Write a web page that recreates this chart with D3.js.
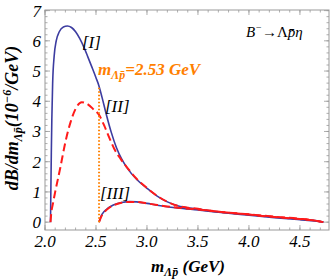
<!DOCTYPE html>
<html>
<head>
<meta charset="utf-8">
<script src="https://cdn.jsdelivr.net/npm/d3@7"></script>
<style>
  body { margin: 0; background: #fff; }
  text { font-family: "Liberation Serif", "DejaVu Serif", serif; }
</style>
</head>
<body>
<div id="chart-area"></div>
<script>
// Datos
const curveI_m = [2.054, 2.058, 2.062, 2.067, 2.075, 2.09, 2.11, 2.14, 2.18, 2.22, 2.26, 2.30, 2.34, 2.38, 2.42, 2.46, 2.50, 2.53, 2.56, 2.60, 2.65, 2.70, 2.75, 2.8, 2.9, 3.0, 3.1, 3.2, 3.3, 3.5, 3.75, 4.0, 4.25, 4.5, 4.65, 4.73];
const curveI_v = [0, 1.2, 2.3, 3.4, 4.6, 5.5, 6.0, 6.3, 6.46, 6.49, 6.44, 6.3, 6.08, 5.8, 5.47, 5.13, 4.78, 4.5, 4.12, 3.58, 2.97, 2.47, 2.1, 1.82, 1.41, 1.12, 0.86, 0.67, 0.54, 0.43, 0.32, 0.25, 0.17, 0.1, 0.05, 0];

const curveII_m = [2.054, 2.06, 2.08, 2.1, 2.15, 2.2, 2.25, 2.3, 2.36, 2.42, 2.48, 2.53, 2.58, 2.63, 2.68, 2.74, 2.8, 2.9, 3.0, 3.1, 3.2, 3.3, 3.5, 3.75, 4.0, 4.25, 4.5, 4.65, 4.73];
const curveII_v = [0, 0.25, 0.65, 1.0, 1.8, 2.65, 3.3, 3.75, 3.97, 3.9, 3.72, 3.55, 3.2, 2.8, 2.42, 2.1, 1.83, 1.43, 1.13, 0.87, 0.67, 0.54, 0.44, 0.33, 0.26, 0.18, 0.11, 0.05, 0];

const curveIIIa_m = [2.53, 2.55, 2.58, 2.62, 2.67, 2.75, 2.83, 2.9, 3.0, 3.1, 3.2, 3.3, 3.5, 3.75, 4.0, 4.25, 4.5, 4.65, 4.73];
const curveIIIa_v = [0, 0.2, 0.35, 0.47, 0.57, 0.65, 0.68, 0.67, 0.62, 0.56, 0.51, 0.47, 0.4, 0.31, 0.23, 0.15, 0.08, 0.04, 0];
const curveIIIb_v = [0, 0.17, 0.32, 0.45, 0.55, 0.64, 0.67, 0.67, 0.62, 0.57, 0.52, 0.48, 0.42, 0.33, 0.25, 0.17, 0.1, 0.05, 0];

const threshold = 2.53;
const thresholdTop = 4.5;

const xMajor = [2.0, 2.5, 3.0, 3.5, 4.0, 4.5];
const yMajor = [0, 1, 2, 3, 4, 5, 6, 7];

const W = 332, H = 280;
const mLeft = 45, mRight = 329, mTop = 10, mBottom = 230;

const svg = d3.select("#chart-area")
    .append("svg")
    .attr("width", W)
    .attr("height", H);

// Escalas
const x = d3.scaleLinear().domain([2.0, 4.785]).range([mLeft, mRight]);
const y = d3.scaleLinear().domain([-0.26, 7.02]).range([mBottom, mTop]);

const xMinor = d3.range(20, 48).map(d => d / 10);
const yMinor = d3.range(0, 36).map(d => d / 5);

// Marco y ticks
const tickColor = "#999";
const g = svg.append("g");

function ticks(vals, len, scale, side) {
    vals.forEach(v => {
        const p = scale(v);
        if (side === "bottom") g.append("line").attr("x1", p).attr("x2", p).attr("y1", mBottom).attr("y2", mBottom - len);
        if (side === "top") g.append("line").attr("x1", p).attr("x2", p).attr("y1", mTop).attr("y2", mTop + len);
        if (side === "left") g.append("line").attr("y1", p).attr("y2", p).attr("x1", mLeft).attr("x2", mLeft + len);
        if (side === "right") g.append("line").attr("y1", p).attr("y2", p).attr("x1", mRight).attr("x2", mRight - len);
    });
}
ticks(xMinor, 2.5, x, "bottom"); ticks(xMinor, 2.5, x, "top");
ticks(xMajor, 5, x, "bottom"); ticks(xMajor, 5, x, "top");
ticks(yMinor, 2.5, y, "left"); ticks(yMinor, 2.5, y, "right");
ticks(yMajor, 5, y, "left"); ticks(yMajor, 5, y, "right");
g.selectAll("line").attr("stroke", tickColor).attr("stroke-width", 0.8);

svg.append("rect")
    .attr("x", mLeft).attr("y", mTop)
    .attr("width", mRight - mLeft).attr("height", mBottom - mTop)
    .attr("fill", "none").attr("stroke", tickColor).attr("stroke-width", 1);

// Etiquetas de ticks
svg.selectAll(".xl").data(xMajor).enter().append("text")
    .attr("x", d => x(d)).attr("y", mBottom + 17)
    .attr("text-anchor", "middle")
    .attr("font-size", 17).attr("font-style", "italic")
    .text(d => d.toFixed(1));

svg.selectAll(".yl").data(yMajor).enter().append("text")
    .attr("x", mLeft - 4).attr("y", d => y(d) + 6)
    .attr("text-anchor", "end")
    .attr("font-size", 17).attr("font-style", "italic")
    .text(d => d);

// Curvas
const line = d3.line()
    .x(d => x(d[0]))
    .y(d => y(d[1]))
    .curve(d3.curveMonotoneX);

const blue = "#3c3ca0", red = "#ff1a1a";

const dI = d3.zip(curveI_m, curveI_v);
const dII = d3.zip(curveII_m, curveII_v);
const dIIIa = d3.zip(curveIIIa_m, curveIIIa_v);
const dIIIb = d3.zip(curveIIIa_m, curveIIIb_v);

svg.append("path").attr("d", line(dI)).attr("fill", "none").attr("stroke", blue).attr("stroke-width", 1.6);
svg.append("path").attr("d", line(dIIIa)).attr("fill", "none").attr("stroke", blue).attr("stroke-width", 1.6);
svg.append("path").attr("d", line(dII)).attr("fill", "none").attr("stroke", red).attr("stroke-width", 2).attr("stroke-dasharray", "8,4");
svg.append("path").attr("d", line(dIIIb)).attr("fill", "none").attr("stroke", red).attr("stroke-width", 2).attr("stroke-dasharray", "8,4");

// Línea del umbral
const orange = "#ff8000";
svg.append("line")
    .attr("x1", x(threshold)).attr("x2", x(threshold))
    .attr("y1", y(0)).attr("y2", y(thresholdTop))
    .attr("stroke", orange).attr("stroke-width", 2)
    .attr("stroke-dasharray", "1.5,2");

// Anotaciones
const ann = (tx, ty, s, size) => svg.append("text")
    .attr("x", tx).attr("y", ty)
    .attr("font-size", size).attr("font-style", "italic")
    .text(s);
ann(82, 48, "[I]", 17);
ann(105, 112, "[II]", 17);
ann(100, 199, "[III]", 17);

const dec = svg.append("text").attr("x", 246).attr("y", 37)
    .attr("font-size", 15).attr("font-style", "italic");
dec.append("tspan").text("B");
dec.append("tspan").attr("dy", -6).attr("font-size", 10).text("−");
dec.append("tspan").attr("dy", 6).text("→");
dec.append("tspan").attr("font-style", "normal").text("Λ");
dec.append("tspan").text("p̄η");

const thr = svg.append("text").attr("x", 98).attr("y", 75)
    .attr("font-size", 17).attr("font-style", "italic").attr("font-weight", "bold")
    .attr("fill", orange);
thr.append("tspan").text("m");
thr.append("tspan").attr("dy", 4).attr("font-size", 12).text("Λp̄");
thr.append("tspan").attr("dy", -4).text("=2.53 GeV");

const xt = svg.append("text").attr("x", 188).attr("y", 272)
    .attr("text-anchor", "middle")
    .attr("font-size", 17).attr("font-style", "italic").attr("font-weight", "bold");
xt.append("tspan").text("m");
xt.append("tspan").attr("dy", 4).attr("font-size", 12).text("Λp̄");
xt.append("tspan").attr("dy", -4).text(" (GeV)");

const yt = svg.append("text")
    .attr("transform", "translate(18," + ((mTop + mBottom) / 2 - 2) + ") rotate(-90)")
    .attr("text-anchor", "middle")
    .attr("font-size", 18).attr("font-style", "italic").attr("font-weight", "bold");
yt.append("tspan").text("dB/dm");
yt.append("tspan").attr("dy", 4).attr("font-size", 12).text("Λp̄");
yt.append("tspan").attr("dy", -4).text("(10");
yt.append("tspan").attr("dy", -7).attr("font-size", 12).text("−6");
yt.append("tspan").attr("dy", 7).text("/GeV)");
</script>
</body>
</html>
